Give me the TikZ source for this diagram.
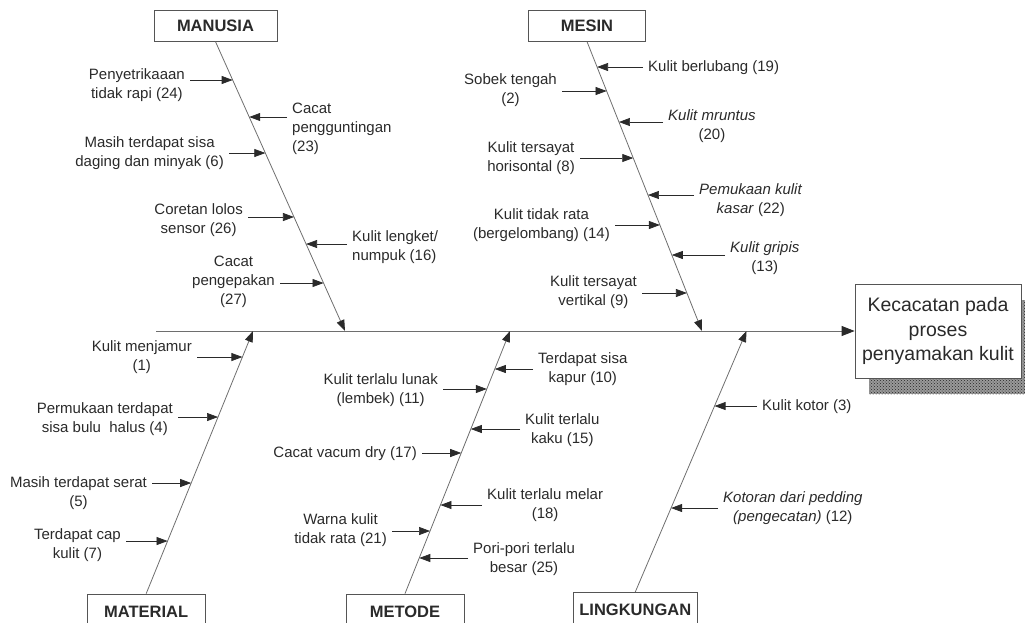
\documentclass[tikz,border=0pt]{standalone}
\usepackage{fontspec}
\setmainfont{Liberation Sans}
\usepackage{tikz}
\usetikzlibrary{arrows.meta}
\usetikzlibrary{patterns}
\definecolor{ink}{HTML}{2A2A2A}
\definecolor{bonegray}{HTML}{6E6E6E}
\definecolor{boxgray}{HTML}{555555}

\begin{document}
\begin{tikzpicture}[x=1pt,y=-1pt,
  cause/.style={inner sep=0pt,align=center,text=ink,font=\fontsize{15}{19}\selectfont},
  catbox/.style={draw=boxgray,line width=0.8pt,fill=white,inner sep=0pt,text=ink,font=\fontsize{16.5}{19}\selectfont\bfseries},
  arrow/.style={draw=ink,line width=0.7pt,shorten <=5pt,-{Triangle[length=11pt,width=8pt]}},
  bone/.style={draw=bonegray,line width=0.8pt,-{Triangle[length=11pt,width=8pt,color=ink]}}]
\useasboundingbox (0,0) rectangle (1025,622);

% effect with shadow
\fill [black!40] (869,300) rectangle (1035,394);
\fill [pattern=crosshatch dots,pattern color=black!85] (869,300) rectangle (1035,394);
\node (effect) at (938,331) [draw=boxgray,line width=0.8pt,fill=white,minimum width=166pt,minimum height=94pt,inner sep=0pt,align=center,text=ink,font=\fontsize{19.5}{24.5}\selectfont] {Kecacatan pada\\proses\\penyamakan kulit};

% spine
\coordinate (tail) at (156,331);
\draw [draw=bonegray,line width=0.9pt,-{Triangle[length=13pt,width=10pt,color=ink]}] (tail) -- (effect.west);

% categories
\node (manusia) at (215.5,25.75) [catbox,minimum width=123pt,minimum height=31pt] {MANUSIA};
\node (mesin) at (587,25.75) [catbox,minimum width=117pt,minimum height=31pt] {MESIN};
\node (material) at (146.2,612) [catbox,minimum width=118pt,minimum height=36pt] {MATERIAL};
\node (metode) at (405,612) [catbox,minimum width=118pt,minimum height=36pt] {METODE};
\node (lingkungan) at (635.3,610.3) [catbox,minimum width=124pt,minimum height=36pt] {LINGKUNGAN};

\coordinate (hm) at (345,331);
\coordinate (hs) at (702,331);
\coordinate (hma) at (253,331);
\coordinate (hme) at (510,331);
\coordinate (hl) at (746.5,331);
\draw [bone] (manusia.south) -- (hm);
\draw [bone] (mesin.south) -- (hs);
\draw [bone] (material.north) -- (hma);
\draw [bone] (metode.north) -- (hme);
\draw [bone] (lingkungan.north) -- (hl);

% MANUSIA
\coordinate (b24) at (intersection of manusia.south--hm and 0,80--1,80);
\coordinate (b23) at (intersection of manusia.south--hm and 0,117--1,117);
\coordinate (b6) at (intersection of manusia.south--hm and 0,153--1,153);
\coordinate (b26) at (intersection of manusia.south--hm and 0,217--1,217);
\coordinate (b16) at (intersection of manusia.south--hm and 0,244--1,244);
\coordinate (b27) at (intersection of manusia.south--hm and 0,283--1,283);
\node (c24) at (185,85) [cause,anchor=east] {Penyetrikaaan\\tidak rapi (24)};
\node (c23) at (292,129) [cause,anchor=west,align=left] {Cacat\\pengguntingan\\(23)};
\node (c6) at (224,153) [cause,anchor=east] {Masih terdapat sisa\\daging dan minyak (6)};
\node (c26) at (243,220) [cause,anchor=east] {Coretan lolos\\sensor (26)};
\node (c16) at (352,247) [cause,anchor=west,align=left] {Kulit lengket/\\numpuk (16)};
\node (c27) at (275,282) [cause,anchor=east] {Cacat\\pengepakan\\(27)};
\draw [arrow] (c24.east |- b24) -- (b24);
\draw [arrow] (c23.west |- b23) -- (b23);
\draw [arrow] (c6.east |- b6) -- (b6);
\draw [arrow] (c26.east |- b26) -- (b26);
\draw [arrow] (c16.west |- b16) -- (b16);
\draw [arrow] (c27.east |- b27) -- (b27);

% MESIN
\coordinate (b19) at (intersection of mesin.south--hs and 0,67--1,67);
\coordinate (b2) at (intersection of mesin.south--hs and 0,91--1,91);
\coordinate (b20) at (intersection of mesin.south--hs and 0,122--1,122);
\coordinate (b8) at (intersection of mesin.south--hs and 0,158--1,158);
\coordinate (b22) at (intersection of mesin.south--hs and 0,195--1,195);
\coordinate (b14) at (intersection of mesin.south--hs and 0,225--1,225);
\coordinate (b13) at (intersection of mesin.south--hs and 0,255--1,255);
\coordinate (b9) at (intersection of mesin.south--hs and 0,293--1,293);
\node (c19) at (648,67.5) [cause,anchor=west] {Kulit berlubang (19)};
\node (c2) at (557,90) [cause,anchor=east] {Sobek tengah\\(2)};
\node (c20) at (668,126) [cause,anchor=west] {\textit{Kulit mruntus}\\(20)};
\node (c8) at (575,158.5) [cause,anchor=east] {Kulit tersayat\\horisontal (8)};
\node (c22) at (699,200) [cause,anchor=west] {\textit{Pemukaan kulit}\\\textit{kasar} (22)};
\node (c14) at (610,225.5) [cause,anchor=east] {Kulit tidak rata\\(bergelombang) (14)};
\node (c13) at (730,258) [cause,anchor=west] {\textit{Kulit gripis}\\(13)};
\node (c9) at (637,292) [cause,anchor=east] {Kulit tersayat\\vertikal (9)};
\draw [arrow] (c19.west |- b19) -- (b19);
\draw [arrow] (c2.east |- b2) -- (b2);
\draw [arrow] (c20.west |- b20) -- (b20);
\draw [arrow] (c8.east |- b8) -- (b8);
\draw [arrow] (c22.west |- b22) -- (b22);
\draw [arrow] (c14.east |- b14) -- (b14);
\draw [arrow] (c13.west |- b13) -- (b13);
\draw [arrow] (c9.east |- b9) -- (b9);

% MATERIAL
\coordinate (b1) at (intersection of material.north--hma and 0,357--1,357);
\coordinate (b4) at (intersection of material.north--hma and 0,417--1,417);
\coordinate (b5) at (intersection of material.north--hma and 0,483--1,483);
\coordinate (b7) at (intersection of material.north--hma and 0,541--1,541);
\node (c1) at (192,357) [cause,anchor=east] {Kulit menjamur\\(1)};
\node (c4) at (173,419) [cause,anchor=east] {Permukaan terdapat\\sisa bulu\ \ halus (4)};
\node (c5) at (147,493) [cause,anchor=east] {Masih terdapat serat\\(5)};
\node (c7) at (121,545) [cause,anchor=east] {Terdapat cap\\kulit (7)};
\draw [arrow] (c1.east |- b1) -- (b1);
\draw [arrow] (c4.east |- b4) -- (b4);
\draw [arrow] (c5.east |- b5) -- (b5);
\draw [arrow] (c7.east |- b7) -- (b7);

% METODE
\coordinate (b10) at (intersection of metode.north--hme and 0,369--1,369);
\coordinate (b11) at (intersection of metode.north--hme and 0,389--1,389);
\coordinate (b15) at (intersection of metode.north--hme and 0,429--1,429);
\coordinate (b17) at (intersection of metode.north--hme and 0,453--1,453);
\coordinate (b18) at (intersection of metode.north--hme and 0,505--1,505);
\coordinate (b21) at (intersection of metode.north--hme and 0,531--1,531);
\coordinate (b25) at (intersection of metode.north--hme and 0,558--1,558);
\node (c10) at (538,369) [cause,anchor=west] {Terdapat sisa\\kapur (10)};
\node (c11) at (438,390) [cause,anchor=east] {Kulit terlalu lunak\\(lembek) (11)};
\node (c15) at (525,430) [cause,anchor=west] {Kulit terlalu\\kaku (15)};
\node (c17) at (417,454) [cause,anchor=east] {Cacat vacum dry (17)};
\node (c18) at (487,505) [cause,anchor=west] {Kulit terlalu melar\\(18)};
\node (c21) at (387,530) [cause,anchor=east] {Warna kulit\\tidak rata (21)};
\node (c25) at (473,559) [cause,anchor=west] {Pori-pori terlalu\\besar (25)};
\draw [arrow] (c10.west |- b10) -- (b10);
\draw [arrow] (c11.east |- b11) -- (b11);
\draw [arrow] (c15.west |- b15) -- (b15);
\draw [arrow] (c17.east |- b17) -- (b17);
\draw [arrow] (c18.west |- b18) -- (b18);
\draw [arrow] (c21.east |- b21) -- (b21);
\draw [arrow] (c25.west |- b25) -- (b25);

% LINGKUNGAN
\coordinate (b3) at (intersection of lingkungan.north--hl and 0,406--1,406);
\coordinate (b12) at (intersection of lingkungan.north--hl and 0,508--1,508);
\node (c3) at (762,407) [cause,anchor=west] {Kulit kotor (3)};
\node (c12) at (723,508) [cause,anchor=west] {\textit{Kotoran dari pedding}\\\textit{(pengecatan)} (12)};
\draw [arrow] (c3.west |- b3) -- (b3);
\draw [arrow] (c12.west |- b12) -- (b12);
\end{tikzpicture}
\end{document}
